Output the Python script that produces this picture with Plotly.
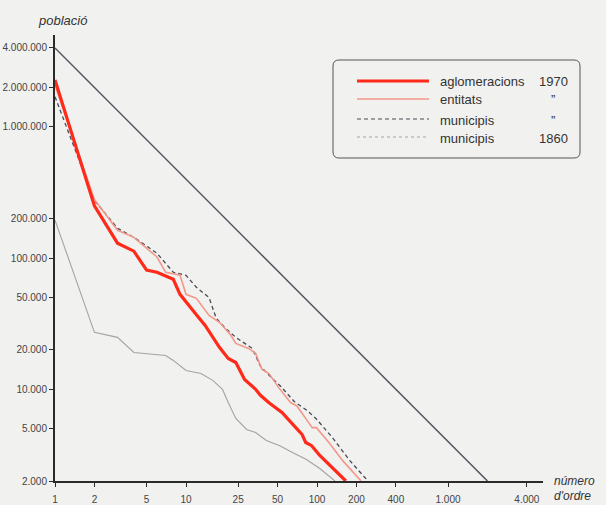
import plotly.graph_objects as go
import math

# ---------------- data ----------------
agl_rank = [1, 2, 3, 4, 5, 6, 8, 9, 12, 14, 18, 21, 24, 28, 34, 37, 43, 54, 70, 77, 82, 91, 105, 132, 166]
agl_pop = [2280000, 250000, 130000, 113000, 81000, 78000, 69000, 53000, 37000, 30700, 20900, 17200,
           16000, 11900, 10000, 9000, 7900, 6660, 5020, 4520, 3930, 3720, 3130, 2490, 2000]

ent_rank = [1, 2, 3, 4, 6, 7, 9, 10, 12, 14, 15, 18, 22, 24, 30, 34, 38, 43, 51, 63, 70, 84, 92, 99, 125, 157, 217]
ent_pop = [2090000, 280000, 163000, 144000, 102000, 78000, 74000, 53000, 49400, 40000, 36600, 32400,
           25800, 22400, 20500, 18800, 14200, 13200, 10300, 7900, 7500, 5800, 5100, 5100, 3860, 2860, 2000]

mun_rank = [1, 2, 3, 4, 6, 8, 10, 12, 15, 17, 20, 24, 32, 37, 43, 53, 67, 84, 98, 131, 178, 245]
mun_pop = [1700000, 275000, 169000, 144000, 109000, 78000, 74000, 60000, 50000, 34800, 29200, 24900,
           20500, 15000, 12800, 10500, 8070, 6900, 6000, 4290, 2860, 2000]

m1860_rank = [1, 2, 3, 4, 7, 8, 10, 13, 16, 19, 21, 24, 29, 34, 41, 52, 65, 83, 105, 137]
m1860_pop = [195000, 27200, 24900, 19100, 18100, 16600, 13900, 13200, 11700, 9980, 7940, 6000,
             4940, 4690, 4070, 3720, 3300, 2920, 2490, 2000]

diag_rank = [1, 2000]
diag_pop = [4000000, 2000]

x_tickvals = [1, 2, 5, 10, 25, 50, 100, 200, 400, 1000, 4000]
x_ticktext = ["1", "2", "5", "10", "25", "50", "100", "200", "400", "1.000", "4.000"]
y_tickvals = [2000, 5000, 10000, 20000, 50000, 100000, 200000, 1000000, 2000000, 4000000]
y_ticktext = ["2.000", "5.000", "10.000", "20.000", "50.000", "100.000", "200.000",
              "1.000.000", "2.000.000", "4.000.000"]

legend_names = ["aglomeracions", "entitats", "municipis", "municipis"]
legend_years = ["1970", "\u201d", "\u201d", "1860"]

# ---------------- styles ----------------
C_AGL = "#ff2a1a"
C_ENT = "#f4968a"
C_MUN = "#4a4a55"
C_1860 = "#a3a3a3"
C_DIAG = "#5b535e"
TXT = "#333333"
FONT = "Liberation Sans"

W, H = 606, 505
L, R, T, B = 55, 543, 35, 481


def px(x):
    return (x - L) / (R - L)


def py(y):
    return (B - y) / (B - T)


fig = go.Figure()
fig.add_trace(go.Scatter(x=diag_rank, y=diag_pop, mode="lines",
                         line=dict(color=C_DIAG, width=1.5), hoverinfo="skip"))
fig.add_trace(go.Scatter(x=m1860_rank, y=m1860_pop, mode="lines",
                         line=dict(color=C_1860, width=1.1), hoverinfo="skip"))
fig.add_trace(go.Scatter(x=mun_rank, y=mun_pop, mode="lines",
                         line=dict(color=C_MUN, width=1.3, dash="4px,3px"), hoverinfo="skip"))
fig.add_trace(go.Scatter(x=ent_rank, y=ent_pop, mode="lines",
                         line=dict(color=C_ENT, width=1.6), hoverinfo="skip"))
fig.add_trace(go.Scatter(x=agl_rank, y=agl_pop, mode="lines",
                         line=dict(color=C_AGL, width=3.2), hoverinfo="skip"))

fig.update_xaxes(type="log", range=[0, 3.725], tickvals=x_tickvals, ticktext=x_ticktext,
                 automargin=False, ticklabelstandoff=4,
                 showgrid=False, zeroline=False, showline=True, linecolor="#2a2a2a", linewidth=2,
                 ticks="outside", ticklen=4, tickcolor="#2a2a2a", tickwidth=1,
                 tickfont=dict(family=FONT, size=10, color="#444"))
fig.update_yaxes(type="log", range=[math.log10(2000), 6.701], tickvals=y_tickvals, ticktext=y_ticktext,
                 automargin=False,
                 showgrid=False, zeroline=False, showline=True, linecolor="#2a2a2a", linewidth=2,
                 ticks="outside", ticklen=4, tickcolor="#2a2a2a", tickwidth=1,
                 tickfont=dict(family=FONT, size=10, color="#444"))

shapes = []
# legend box with rounded corners
x0, x1, y0, y1 = px(333), px(580), py(158), py(60)
rx, ry = 6 / (R - L), 6 / (B - T)
path = (f"M {x0+rx},{y1} L {x1-rx},{y1} Q {x1},{y1} {x1},{y1-ry} L {x1},{y0+ry} "
        f"Q {x1},{y0} {x1-rx},{y0} L {x0+rx},{y0} Q {x0},{y0} {x0},{y0+ry} "
        f"L {x0},{y1-ry} Q {x0},{y1} {x0+rx},{y1} Z")
shapes.append(dict(type="path", path=path, xref="paper", yref="paper",
                   line=dict(color="#555", width=1), fillcolor="rgba(0,0,0,0)"))
rows_y = [81, 99, 119, 137]
styles = [dict(color=C_AGL, width=3.2), dict(color=C_ENT, width=1.6),
          dict(color=C_MUN, width=1.2, dash="4px,3px"), dict(color=C_1860, width=1.1, dash="dot")]
for yy, st in zip(rows_y, styles):
    shapes.append(dict(type="line", xref="paper", yref="paper", x0=px(357), x1=px(429),
                       y0=py(yy), y1=py(yy), line=st))

annotations = []
for yy, name, yr in zip(rows_y, legend_names, legend_years):
    annotations.append(dict(text=name, x=px(438), y=py(yy + 1), xref="paper", yref="paper",
                            xanchor="left", yanchor="middle", showarrow=False,
                            font=dict(family=FONT, size=13, color=TXT)))
    annotations.append(dict(text=yr, x=px(553), y=py(yy + 1), xref="paper", yref="paper",
                            xanchor="center", yanchor="middle", showarrow=False,
                            font=dict(family=FONT, size=13, color=TXT)))

annotations.append(dict(text="<i>població</i>", x=px(62), y=py(20), xref="paper", yref="paper",
                        xanchor="center", yanchor="middle", showarrow=False,
                        font=dict(family=FONT, size=13, color=TXT)))
annotations.append(dict(text="<i>número</i>", x=px(552), y=py(481), xref="paper", yref="paper",
                        xanchor="left", yanchor="middle", showarrow=False,
                        font=dict(family=FONT, size=12, color=TXT)))
annotations.append(dict(text="<i>d'ordre</i>", x=px(552), y=py(496), xref="paper", yref="paper",
                        xanchor="left", yanchor="middle", showarrow=False,
                        font=dict(family=FONT, size=12, color=TXT)))

fig.update_layout(width=W, height=H, margin=dict(l=L, r=W - R, t=T, b=H - B),
                  paper_bgcolor="#f1f1ef", plot_bgcolor="#f1f1ef", showlegend=False,
                  hovermode=False, shapes=shapes, annotations=annotations)

fig.write_html("out.html", config={"displayModeBar": False},
               post_script="document.body.style.margin='0';document.body.style.overflow='hidden';"
                           "document.documentElement.style.overflow='hidden';")
